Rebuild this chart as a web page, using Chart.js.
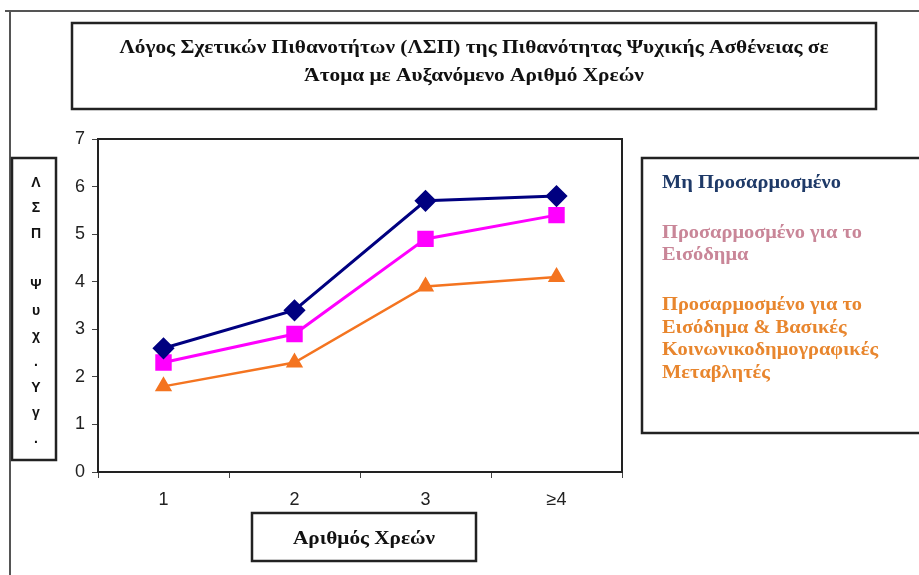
<!DOCTYPE html>
<html lang="el">
<head>
<meta charset="utf-8">
<title>ΛΣΠ Ψυχικής Ασθένειας και Αριθμός Χρεών</title>
<script src="https://cdn.jsdelivr.net/npm/chart.js@4.4.1/dist/chart.umd.min.js"></script>
<style>
  html, body { margin: 0; padding: 0; background: #fff; }
  #wrap { width: 919px; height: 575px; }
</style>
</head>
<body>
<div id="wrap"><canvas id="debtChart" width="919" height="575"></canvas></div>
<script>
// Odds ratios by number of debts
const categories = ['1', '2', '3', '≥4'];
const unadjusted = [2.6, 3.4, 5.7, 5.8];
const incomeAdjusted = [2.3, 2.9, 4.9, 5.4];
const fullyAdjusted = [1.8, 2.3, 3.9, 4.1];
const yTicks = [0, 1, 2, 3, 4, 5, 6, 7];

const titleLines = [
  'Λόγος Σχετικών Πιθανοτήτων (ΛΣΠ) της Πιθανότητας Ψυχικής Ασθένειας σε',
  'Άτομα με Αυξανόμενο Αριθμό Χρεών'
];
const xTitle = 'Αριθμός Χρεών';
const yTitleChars = ['Λ', 'Σ', 'Π', '', 'Ψ', 'υ', 'χ', '.', 'Υ', 'γ', '.'];
const seriesNames = [
  ['Μη Προσαρμοσμένο'],
  ['Προσαρμοσμένο για το', 'Εισόδημα'],
  ['Προσαρμοσμένο για το', 'Εισόδημα & Βασικές', 'Κοινωνικοδημογραφικές', 'Μεταβλητές']
];
const lineColors = ['#000080', '#ff00ff', '#f47420'];
const legendTextColors = ['#1f3a68', '#c98698', '#e8862e'];

const serif = '"Liberation Serif", "Times New Roman", serif';
const sans = '"Liberation Sans", Arial, sans-serif';

// draws text stretched horizontally by sx
function drawStretched(ctx, text, x, y, sx, align) {
  ctx.save();
  ctx.translate(x, y);
  ctx.scale(sx, 1);
  ctx.textAlign = align;
  ctx.fillText(text, 0, 0);
  ctx.restore();
}

function box(ctx, x1, y1, x2, y2) {
  ctx.strokeRect(x1, y1, x2 - x1, y2 - y1);
}

const decorations = {
  id: 'decorations',
  beforeDraw(chart) {
    const ctx = chart.ctx;
    ctx.save();
    ctx.fillStyle = '#fff';
    ctx.fillRect(0, 0, chart.width, chart.height);

    // outer frame
    ctx.strokeStyle = '#555';
    ctx.lineWidth = 2;
    ctx.beginPath();
    ctx.moveTo(5, 11);
    ctx.lineTo(chart.width, 11);
    ctx.moveTo(10, 11);
    ctx.lineTo(10, chart.height);
    ctx.stroke();

    ctx.strokeStyle = '#222';
    ctx.lineWidth = 2.5;
    box(ctx, 72, 23, 876, 109);
    box(ctx, 12, 158, 56, 460);
    box(ctx, 642, 158, chart.width + 5, 433);
    box(ctx, 252, 513, 476, 561);

    // title
    ctx.fillStyle = '#111';
    ctx.textBaseline = 'middle';
    ctx.font = 'bold 18px ' + serif;
    const titleScale = 709 / ctx.measureText(titleLines[0]).width;
    drawStretched(ctx, titleLines[0], 474, 48, titleScale, 'center');
    drawStretched(ctx, titleLines[1], 474, 76, titleScale, 'center');

    // x axis title
    const xs = 142 / ctx.measureText(xTitle).width;
    drawStretched(ctx, xTitle, 364, 539, xs, 'center');

    // vertical y axis title
    ctx.font = 'bold 14px ' + sans;
    ctx.textAlign = 'center';
    yTitleChars.forEach((c, i) => ctx.fillText(c, 36, 183 + i * 25.6));

    // legend text
    ctx.font = 'bold 18px ' + serif;
    const legScale = 216 / ctx.measureText(seriesNames[2][2]).width;
    let n = 0;
    seriesNames.forEach((lines, g) => {
      ctx.fillStyle = legendTextColors[g];
      lines.forEach(line => {
        drawStretched(ctx, line, 662, 183 + n * 22.5 + g * 27.5, legScale, 'left');
        n++;
      });
    });
    ctx.restore();
  },
  beforeDatasetsDraw(chart) {
    const { ctx, chartArea: a } = chart;
    ctx.save();
    ctx.strokeStyle = '#222';
    ctx.lineWidth = 2;
    ctx.beginPath();
    ctx.moveTo(a.left, a.top);
    ctx.lineTo(a.right, a.top);
    ctx.lineTo(a.right, a.bottom);
    ctx.stroke();
    ctx.restore();
  }
};

const ctx = document.getElementById('debtChart').getContext('2d');
new Chart(ctx, {
  type: 'line',
  data: {
    labels: categories,
    datasets: [{
      label: seriesNames[0].join(' '),
      data: unadjusted,
      borderColor: lineColors[0],
      backgroundColor: lineColors[0],
      borderWidth: 3,
      pointStyle: 'rectRot',
      pointRadius: 9
    }, {
      label: seriesNames[1].join(' '),
      data: incomeAdjusted,
      borderColor: lineColors[1],
      backgroundColor: lineColors[1],
      borderWidth: 3,
      pointStyle: 'rect',
      pointRadius: 9.5
    }, {
      label: seriesNames[2].join(' '),
      data: fullyAdjusted,
      borderColor: lineColors[2],
      backgroundColor: lineColors[2],
      borderWidth: 2.5,
      pointStyle: 'triangle',
      pointRadius: 7.5
    }]
  },
  options: {
    responsive: false,
    animation: false,
    layout: { padding: { left: 58, right: 297, top: 139, bottom: 53 } },
    plugins: {
      legend: { display: false },
      tooltip: { enabled: false }
    },
    scales: {
      x: {
        offset: true,
        grid: { offset: true, drawOnChartArea: false, tickLength: 6, color: '#444' },
        border: { color: '#222', width: 2 },
        ticks: { color: '#222', padding: 11, font: { family: sans, size: 18 } },
        afterFit: s => { s.height = 50; }
      },
      y: {
        min: 0,
        max: 7,
        afterBuildTicks: s => { s.ticks = yTicks.map(v => ({ value: v })); },
        grid: { drawOnChartArea: false, tickLength: 6, color: '#444' },
        border: { color: '#222', width: 2 },
        ticks: { color: '#222', padding: 7, font: { family: sans, size: 18 } },
        afterFit: s => { s.width = 40; }
      }
    }
  },
  plugins: [decorations]
});
</script>
</body>
</html>
